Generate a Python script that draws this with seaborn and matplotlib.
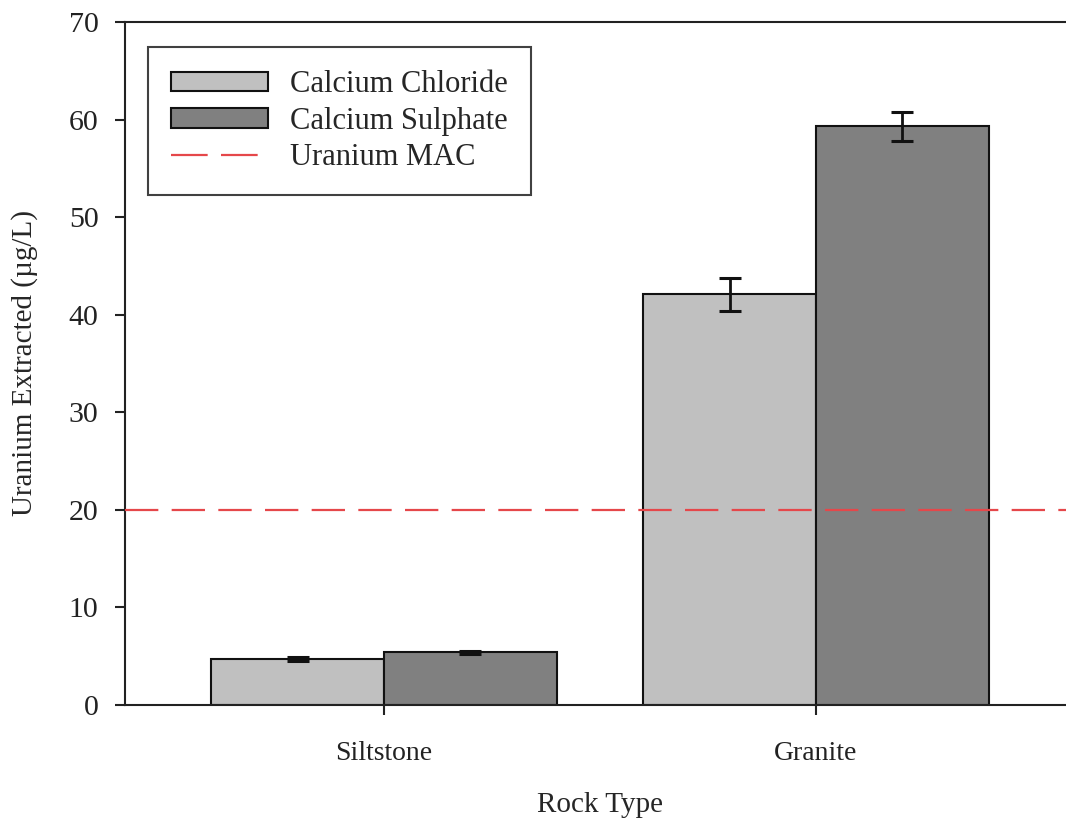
import matplotlib
matplotlib.use("Agg")
import matplotlib.pyplot as plt
from matplotlib.lines import Line2D
from matplotlib.patches import Patch
import seaborn as sns
import pandas as pd

# Uranium extracted from each rock type by two leaching solutions (µg/L)
rock_types = ["Siltstone", "Granite"]
solutions = ["Calcium Chloride", "Calcium Sulphate"]
chloride_values = [4.7, 42.1]
sulphate_values = [5.4, 59.3]
chloride_errors = [0.2, 1.7]
sulphate_errors = [0.15, 1.5]
mac_value = 20.0
mac_label = "Uranium MAC"
y_ticks = [0, 10, 20, 30, 40, 50, 60, 70]

sns.set_theme(style="ticks")
plt.rcParams["font.family"] = ["Liberation Serif", "DejaVu Serif"]

df = pd.DataFrame({
    "Rock Type": rock_types * 2,
    "Solution": [solutions[0]] * 2 + [solutions[1]] * 2,
    "Uranium": chloride_values + sulphate_values,
    "Error": chloride_errors + sulphate_errors,
})

fig = plt.figure(figsize=(10.66, 8.26), dpi=100)
ax = fig.add_axes([125 / 1066, 121 / 826, 950 / 1066, 683 / 826])

palette = {solutions[0]: "#c0c0c0", solutions[1]: "#808080"}
sns.barplot(data=df, x="Rock Type", y="Uranium", hue="Solution",
            order=rock_types, hue_order=solutions, palette=palette,
            errorbar=None, width=0.8, edgecolor="#111111", linewidth=1.5,
            saturation=1, ax=ax, legend=False)

# Error bars placed at the centre of each drawn bar
for container, sol in zip(ax.containers, solutions):
    sub = df[df["Solution"] == sol].set_index("Rock Type").loc[rock_types]
    xs = [p.get_x() + p.get_width() / 2 for p in container.patches]
    ax.errorbar(xs, sub["Uranium"], yerr=sub["Error"], fmt="none",
                ecolor="#111111", elinewidth=2, capsize=8, capthick=2.2,
                zorder=5)

mac_color = "#e5474a"
ax.axhline(mac_value, color=mac_color, linewidth=1.6,
           dashes=(15, 6), zorder=4)

ax.set_ylim(0, 70)
ax.set_xlim(-0.6, 1.6)
ax.set_yticks(y_ticks)
ax.set_xlabel("Rock Type", fontsize=21, labelpad=19)
ax.set_ylabel("Uranium Extracted (µg/L)", fontsize=21, labelpad=22)
ax.tick_params(axis="both", direction="out", length=7, width=1.5,
               colors="#222222")
ax.tick_params(axis="y", pad=12, labelsize=21.5)
ax.tick_params(axis="x", pad=19, labelsize=20)
for s in ["left", "bottom", "top"]:
    ax.spines[s].set_visible(True)
    ax.spines[s].set_linewidth(1.5)
    ax.spines[s].set_color("#222222")
ax.spines["right"].set_visible(False)

handles = [
    Patch(facecolor=palette[solutions[0]], edgecolor="#111111", linewidth=1.5),
    Patch(facecolor=palette[solutions[1]], edgecolor="#111111", linewidth=1.5),
    Line2D([0], [0], color=mac_color, linewidth=1.6, dashes=(16.5, 6)),
]
leg = ax.legend(handles, solutions + [mac_label], loc="upper left",
                bbox_to_anchor=(0.024, 0.963), borderaxespad=0,
                fontsize=22, handlelength=3.2, handleheight=0.62,
                handletextpad=0.7, labelspacing=0.25, borderpad=0.75,
                frameon=True, fancybox=False)
leg.get_frame().set_edgecolor("#111111")
leg.get_frame().set_linewidth(1.5)

fig.savefig("out.png", dpi=100)
